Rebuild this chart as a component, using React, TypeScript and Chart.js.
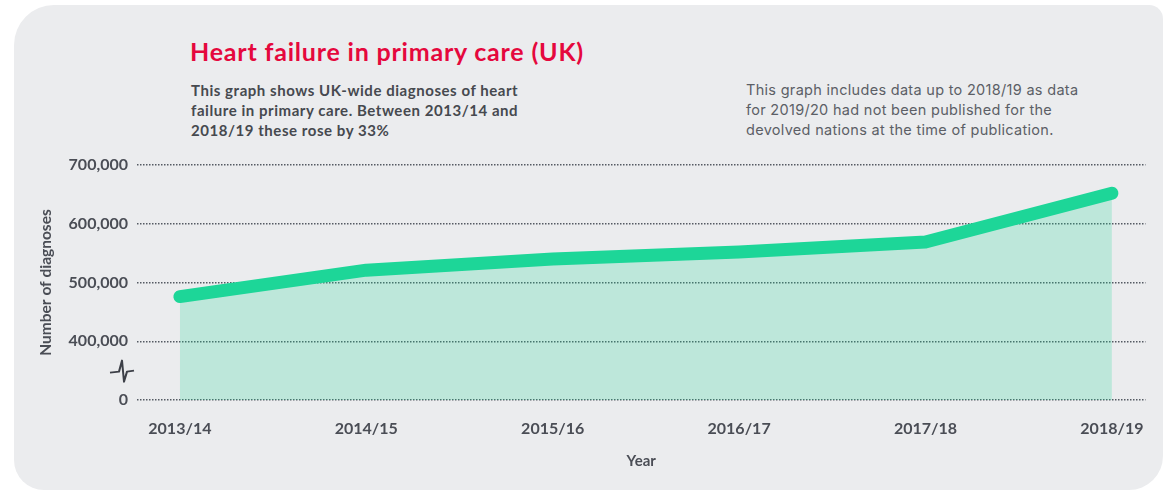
import React, { useEffect, useRef } from 'react';
import { Chart, registerables } from 'chart.js';

Chart.register(...registerables);

// ---- data ----
const years: string[] = ['2013/14', '2014/15', '2015/16', '2016/17', '2017/18', '2018/19'];
const diagnoses: number[] = [476000, 521000, 540000, 552000, 569000, 652000];
// broken axis: the baseline "0" sits one step below 400,000
const yTickValues: number[] = [300000, 400000, 500000, 600000, 700000];
const yTickLabels: string[] = ['0', '400,000', '500,000', '600,000', '700,000'];

const TITLE = 'Heart failure in primary care (UK)';
const SUBTITLE = [
  'This graph shows UK-wide diagnoses of heart',
  'failure in primary care. Between 2013/14 and',
  '2018/19 these rose by 33%',
];
const NOTE = [
  'This graph includes data up to 2018/19 as data',
  'for 2019/20 had not been published for the',
  'devolved nations at the time of publication.',
];

const LINE = 'rgb(29, 214, 152)';
const FILL = 'rgba(29, 214, 152, 0.22)';
const TEXT = '#4a4d55';

const breakPlugin = {
  id: 'axisBreak',
  afterDraw(chart: any) {
    const y = chart.scales.y;
    const ctx = chart.ctx;
    const cy = (y.getPixelForValue(300000) + y.getPixelForValue(400000)) / 2;
    const cx = chart.chartArea.left - 15;
    ctx.save();
    ctx.strokeStyle = '#3d4048';
    ctx.lineWidth = 2;
    ctx.lineJoin = 'round';
    ctx.beginPath();
    ctx.moveTo(cx - 12, cy + 2);
    ctx.lineTo(cx - 3, cy + 1);
    ctx.lineTo(cx, cy - 10);
    ctx.lineTo(cx + 2, cy + 11);
    ctx.lineTo(cx + 5, cy + 1);
    ctx.lineTo(cx + 12, cy);
    ctx.stroke();
    ctx.restore();
  },
};

function HeartChart() {
  const ref = useRef<HTMLCanvasElement | null>(null);
  useEffect(() => {
    if (!ref.current) return;
    const chart = new Chart(ref.current, {
      type: 'line',
      data: {
        datasets: [
          {
            data: diagnoses.map((v, i) => ({ x: i, y: v })),
            borderColor: LINE,
            backgroundColor: FILL,
            borderWidth: 13,
            borderCapStyle: 'round',
            borderJoinStyle: 'round',
            pointRadius: 0,
            tension: 0,
            fill: 'start',
            clip: false,
          } as any,
        ],
      },
      options: {
        responsive: false,
        animation: false,
        layout: { padding: { top: 165, right: 16, left: 0, bottom: 0 } },
        plugins: { legend: { display: false }, tooltip: { enabled: false } },
        scales: {
          x: {
            type: 'linear',
            min: -0.23,
            max: 5.18,
            afterBuildTicks: (s: any) => {
              s.ticks = years.map((_, i) => ({ value: i }));
            },
            afterFit: (s: any) => {
              s.height = 91;
            },
            grid: { display: false, drawTicks: false },
            border: { display: false },
            ticks: {
              padding: 19,
              color: TEXT,
              font: { family: 'Lato', size: 16, weight: 'bold' },
              callback: (v: any) => years[v as number] ?? '',
              maxRotation: 0,
            },
            title: {
              display: true,
              text: 'Year',
              color: TEXT,
              font: { family: 'Lato', size: 15, weight: 'bold' },
              padding: { top: 0, bottom: 21 },
            },
          },
          y: {
            min: 300000,
            max: 700000,
            afterBuildTicks: (s: any) => {
              s.ticks = yTickValues.map((value) => ({ value }));
            },
            afterFit: (s: any) => {
              s.width = 137;
            },
            grid: {
              drawTicks: false,
              color: '#555a63',
              lineWidth: 1.5,
            },
            border: { display: false, dash: [1.5, 1.5] },
            ticks: {
              padding: 9,
              color: TEXT,
              font: { family: 'Lato', size: 16, weight: 'bold' },
              callback: (v: any) => yTickLabels[yTickValues.indexOf(v as number)] ?? '',
            },
            title: {
              display: true,
              text: 'Number of diagnoses',
              color: TEXT,
              font: { family: 'Lato', size: 15.5, weight: 'bold' },
              padding: { top: 37, bottom: 0 },
            },
          },
        },
      },
      plugins: [breakPlugin],
    } as any);
    return () => chart.destroy();
  }, []);
  return (
    <canvas
      ref={ref}
      width={1163}
      height={491}
      style={{ position: 'absolute', left: 0, top: 0, width: 1163, height: 491 }}
    />
  );
}

export default function App() {
  return (
    <div
      style={{
        position: 'absolute',
        left: 0,
        top: 0,
        width: 1163,
        height: 491,
        background: '#ffffff',
        overflow: 'hidden',
      }}
    >
      <div
        style={{
          position: 'absolute',
          left: 14,
          top: 5,
          width: 1149,
          height: 485,
          background: '#ebecee',
          borderRadius: '40px 14px 34px 30px',
        }}
      />
      <div
        style={{
          position: 'absolute',
          left: 190,
          top: 35,
          fontFamily: 'Lato',
          fontWeight: 700,
          fontSize: 25,
          letterSpacing: 0.8,
          color: '#e5083d',
          whiteSpace: 'nowrap',
          lineHeight: '32px',
        }}
      >
        {TITLE}
      </div>
      <div
        style={{
          position: 'absolute',
          left: 191,
          top: 80,
          fontFamily: 'Lato',
          fontWeight: 700,
          fontSize: 15,
          letterSpacing: 0.55,
          color: '#46494f',
          lineHeight: '20px',
          whiteSpace: 'nowrap',
        }}
      >
        {SUBTITLE.map((l, i) => (
          <div key={i}>{l}</div>
        ))}
      </div>
      <div
        style={{
          position: 'absolute',
          left: 746,
          top: 80,
          fontFamily: 'Inter',
          fontWeight: 400,
          fontSize: 14.5,
          letterSpacing: 0.3,
          color: '#5c5f66',
          lineHeight: '20px',
          whiteSpace: 'nowrap',
        }}
      >
        {NOTE.map((l, i) => (
          <div key={i}>{l}</div>
        ))}
      </div>
      <HeartChart />
    </div>
  );
}
